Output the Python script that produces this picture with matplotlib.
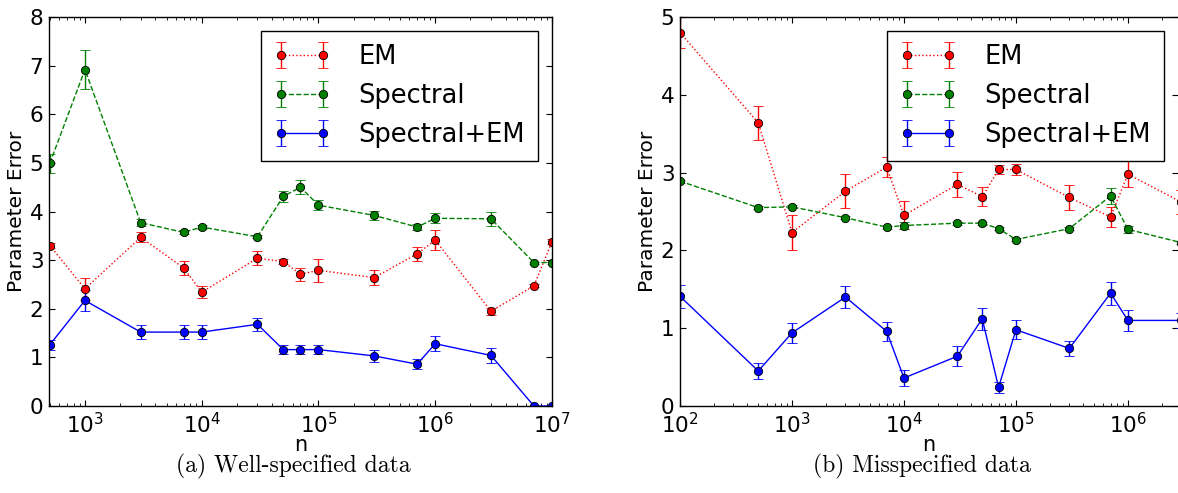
import matplotlib
matplotlib.use("Agg")
import matplotlib.pyplot as plt
from matplotlib.ticker import LogLocator, MultipleLocator, NullFormatter

# ---------------- data ----------------
n_left = [500, 1000, 3000, 7000, 10000, 30000, 50000, 70000, 100000,
          300000, 700000, 1000000, 3000000, 7000000, 10000000]
em_left = [3.30, 2.41, 3.47, 2.84, 2.34, 3.04, 2.97, 2.71, 2.79, 2.64, 3.13, 3.41, 1.95, 2.47, 3.38]
em_left_err = [0.05, 0.22, 0.10, 0.14, 0.12, 0.15, 0.05, 0.13, 0.24, 0.15, 0.15, 0.21, 0.07, 0.03, 0.05]
sp_left = [4.99, 6.92, 3.77, 3.57, 3.68, 3.48, 4.31, 4.50, 4.13, 3.92, 3.68, 3.86, 3.85, 2.95, 2.95]
sp_left_err = [0.20, 0.40, 0.07, 0.04, 0.05, 0.03, 0.12, 0.14, 0.10, 0.09, 0.06, 0.10, 0.15, 0.02, 0.02]
spem_left = [1.26, 2.17, 1.52, 1.52, 1.52, 1.68, 1.16, 1.16, 1.16, 1.03, 0.86, 1.28, 1.04, 0.0, 0.0]
spem_left_err = [0.10, 0.22, 0.15, 0.15, 0.15, 0.14, 0.10, 0.10, 0.09, 0.13, 0.10, 0.15, 0.15, 0.0, 0.0]

n_right = [100, 500, 1000, 3000, 7000, 10000, 30000, 50000, 70000, 100000,
           300000, 700000, 1000000, 3000000]
em_right = [4.80, 3.64, 2.23, 2.76, 3.07, 2.45, 2.85, 2.69, 3.04, 3.04, 2.68, 2.43, 2.98, 2.62]
em_right_err = [0.20, 0.22, 0.22, 0.22, 0.13, 0.18, 0.16, 0.12, 0.06, 0.07, 0.16, 0.13, 0.17, 0.15]
sp_right = [2.89, 2.55, 2.56, 2.42, 2.30, 2.32, 2.35, 2.35, 2.28, 2.14, 2.28, 2.70, 2.27, 2.10]
sp_right_err = [0.02, 0.02, 0.02, 0.02, 0.02, 0.04, 0.02, 0.02, 0.02, 0.02, 0.02, 0.10, 0.04, 0.02]
spem_right = [1.41, 0.45, 0.94, 1.40, 0.96, 0.36, 0.64, 1.12, 0.24, 0.98, 0.74, 1.45, 1.10, 1.10]
spem_right_err = [0.15, 0.10, 0.13, 0.14, 0.12, 0.10, 0.13, 0.14, 0.07, 0.12, 0.10, 0.15, 0.13, 0.10]

labels = ["EM", "Spectral", "Spectral+EM"]
captions = ["(a) Well-specified data", "(b) Misspecified data"]

# ---------------- style ----------------
plt.rcParams.update({
    "font.family": "DejaVu Sans",
    "mathtext.fontset": "dejavusans",
    "xtick.direction": "in",
    "ytick.direction": "in",
    "xtick.top": True,
    "ytick.right": True,
    "xtick.major.size": 4,
    "ytick.major.size": 4,
    "xtick.minor.size": 2,
    "ytick.minor.size": 2,
    "axes.linewidth": 1.0,
})

fig = plt.figure(figsize=(11.78, 4.93), dpi=100)
W, H = 1178.0, 493.0
ax1 = fig.add_axes([49 / W, 1 - 406 / H, (552 - 49) / W, (406 - 17) / H])
ax2 = fig.add_axes([680 / W, 1 - 406 / H, (1178 - 680) / W, (406 - 17) / H])

styles = [
    dict(color="red", ls=":"),
    dict(color="green", ls="--"),
    dict(color="blue", ls="-"),
]


def draw(ax, n, series, errs, xlim, ylim):
    for (y, e), st, lab in zip(zip(series, errs), styles, labels):
        ax.errorbar(n, y, yerr=e, color=st["color"], ls=st["ls"], lw=1.0,
                    marker="o", markersize=6, markerfacecolor=st["color"],
                    markeredgecolor="black", markeredgewidth=0.6,
                    capsize=3.5, elinewidth=1.0, capthick=1.0, label=lab)
    ax.set_xscale("log")
    ax.set_xlim(*xlim)
    ax.set_ylim(*ylim)
    ax.yaxis.set_major_locator(MultipleLocator(1))
    ax.xaxis.set_major_locator(LogLocator(base=10, numticks=20))
    ax.xaxis.set_minor_locator(LogLocator(base=10, subs=range(2, 10), numticks=20))
    ax.xaxis.set_minor_formatter(NullFormatter())
    ax.tick_params(labelsize=15.5, pad=4)
    ax.set_xlabel("n", fontsize=15, labelpad=-1)
    ax.set_ylabel("Parameter Error", fontsize=14.5, labelpad=3)
    leg = ax.legend(loc="upper right", numpoints=2, fontsize=18.5, handlelength=2.2,
                    borderaxespad=0.55, fancybox=False, framealpha=1,
                    borderpad=0.5, labelspacing=0.5, handletextpad=1.1)
    leg.get_frame().set_edgecolor("black")
    leg.get_frame().set_linewidth(1.0)


draw(ax1, n_left, [em_left, sp_left, spem_left],
     [em_left_err, sp_left_err, spem_left_err], (492, 1e7), (0, 8))
draw(ax2, n_right, [em_right, sp_right, spem_right],
     [em_right_err, sp_right_err, spem_right_err], (100, 2.8e6), (0, 5))
ax2.spines["right"].set_visible(False)

fig.text(293 / W, 1 - 466 / H, captions[0], ha="center", va="center",
         fontsize=17, family="cmr10")
fig.text(922 / W, 1 - 466 / H, captions[1], ha="center", va="center",
         fontsize=17, family="cmr10")

fig.savefig("out.png", dpi=100)
